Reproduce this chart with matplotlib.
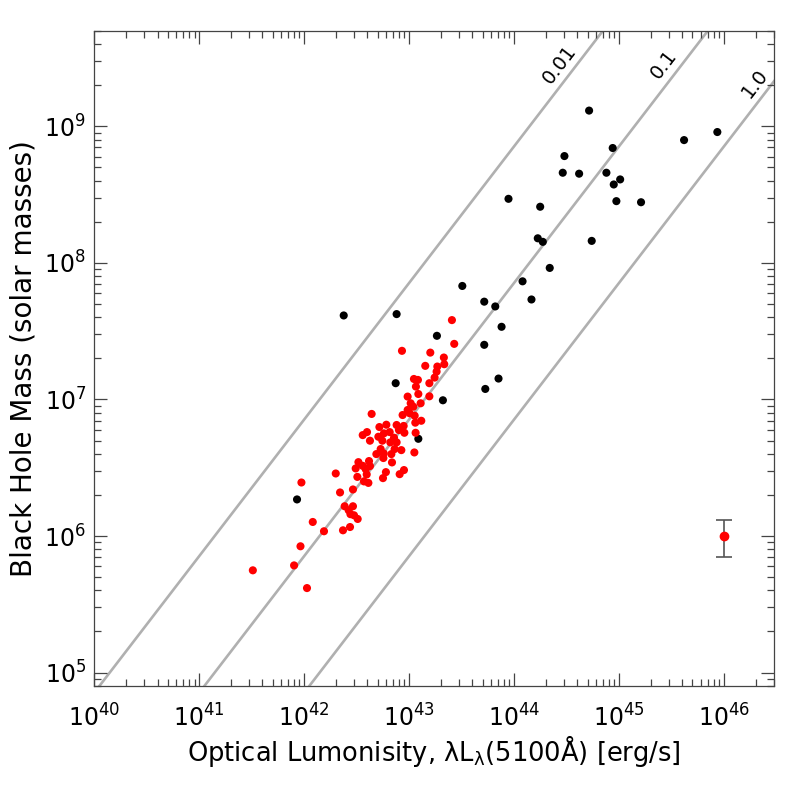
import numpy as np
import matplotlib
matplotlib.use("Agg")
import matplotlib.pyplot as plt
from matplotlib.ticker import LogLocator, NullFormatter

plt.rcParams['font.family'] = ['DejaVu Sans']
plt.rcParams['mathtext.default'] = 'regular'

# log10 of optical luminosity (erg/s) and black hole mass (solar masses)
black_logL = [44.714, 45.936, 45.619, 44.939, 44.479, 44.463, 44.619, 44.879, 45.010,
              44.949, 44.974, 45.209, 43.946, 44.248, 44.225, 44.273, 44.739, 44.339,
              43.506, 44.080, 43.715, 43.820, 44.165, 43.880, 43.264, 43.715, 43.851,
              43.725, 43.321, 42.376, 42.880, 42.871, 43.087, 41.931]
black_logM = [9.115, 8.958, 8.899, 8.841, 8.782, 8.660, 8.653, 8.660, 8.611,
              8.574, 8.452, 8.444, 8.469, 8.411, 8.180, 8.154, 8.161, 7.963,
              7.831, 7.865, 7.716, 7.681, 7.732, 7.532, 7.466, 7.400, 7.153,
              7.077, 6.994, 7.615, 7.625, 7.119, 6.712, 6.268]

red_logL = [43.407, 43.429, 42.931, 43.201, 43.330, 43.334, 43.153, 43.268, 43.261, 43.242,
            43.045, 43.083, 43.064, 43.192, 43.087, 43.192, 42.985, 43.014, 43.109, 43.039,
            42.985, 43.004, 42.937, 43.052, 42.642, 43.115, 43.058, 42.947, 42.880, 42.782,
            42.716, 42.902, 42.954, 43.061, 42.814, 42.759, 42.598, 42.557, 42.706, 42.855,
            42.626, 42.744, 42.820, 42.880, 42.861, 42.925, 42.728, 42.687, 42.757, 42.830,
            43.049, 42.754, 42.836, 42.617, 42.516, 42.557, 42.490, 42.626, 42.585, 42.778,
            42.950, 42.909, 42.300, 42.506, 42.595, 42.750, 42.569, 42.611, 41.973, 42.464,
            42.341, 42.385, 42.464, 42.423, 42.440, 42.474, 42.509, 42.081, 42.188, 42.369,
            42.436, 41.964, 41.903, 41.510, 42.026]
red_logM = [7.581, 7.407, 7.356, 7.343, 7.307, 7.258, 7.246, 7.241, 7.204, 7.160,
            7.150, 7.143, 7.094, 7.119, 7.040, 7.023, 7.021, 6.972, 6.972, 6.947,
            6.923, 6.899, 6.886, 6.881, 6.894, 6.844, 6.830, 6.806, 6.813, 6.815,
            6.798, 6.776, 6.756, 6.756, 6.761, 6.752, 6.761, 6.739, 6.727, 6.720,
            6.698, 6.698, 6.686, 6.686, 6.637, 6.629, 6.637, 6.600, 6.605, 6.600,
            6.612, 6.571, 6.539, 6.549, 6.541, 6.514, 6.495, 6.512, 6.490, 6.468,
            6.483, 6.453, 6.458, 6.433, 6.451, 6.424, 6.400, 6.389, 6.392, 6.341,
            6.319, 6.218, 6.218, 6.189, 6.160, 6.152, 6.125, 6.103, 6.035, 6.042,
            6.066, 5.925, 5.785, 5.749, 5.619]

# typical error bar point
err_L = 1e46
err_M = 1e6
err_dM = 3e5

# Eddington ratio lines
edd_ratios = [0.01, 0.1, 1.0]
edd_labels = ["0.01", "0.1", "1.0"]
edd_label_logL = [44.43, 45.43, 46.29]
L5100_per_Msun = 1.4e37  # erg/s per solar mass at Eddington ratio 1

fig = plt.figure(figsize=(7.89, 7.89), dpi=100)
ax = fig.add_axes([0.1196, 0.1302, 0.8618, 0.8309])
ax.set_xscale('log')
ax.set_yscale('log')
ax.set_xlim(1e40, 10**46.479)
ax.set_ylim(10**4.9, 10**9.7)

Lline = np.logspace(39, 47, 50)
for r, lab, lx in zip(edd_ratios, edd_labels, edd_label_logL):
    ax.plot(Lline, Lline / (r * L5100_per_Msun), color='#b0b0b0', lw=1.9, zorder=1)
    ly = 10**lx / (r * L5100_per_Msun) * 10**0.17
    ax.text(10**lx, ly, lab, rotation=52.5, rotation_mode='anchor',
            ha='center', va='center', fontsize=14)

ax.scatter(10**np.array(black_logL), 10**np.array(black_logM), s=34, c='black',
           edgecolors='none', zorder=3)
ax.scatter(10**np.array(red_logL), 10**np.array(red_logM), s=34, c='red',
           edgecolors='none', zorder=3)
ax.errorbar([err_L], [err_M], yerr=[[err_dM], [err_dM]], fmt='o', color='red',
            ms=6, ecolor='#555555', elinewidth=1.2, capsize=5.5, capthick=1.2, zorder=3)

xt = [10.0**k for k in range(40, 47)]
yt = [10.0**k for k in range(5, 10)]
ax.xaxis.set_minor_locator(LogLocator(base=10, subs=np.arange(2, 10), numticks=20))
ax.yaxis.set_minor_locator(LogLocator(base=10, subs=np.arange(2, 10), numticks=20))
ax.xaxis.set_minor_formatter(NullFormatter())
ax.yaxis.set_minor_formatter(NullFormatter())
ax.set_xticks(xt)
ax.set_xticklabels(['$10^{%d}$' % k for k in range(40, 47)])
ax.set_yticks(yt)
ax.set_yticklabels(['$10^{%d}$' % k for k in range(5, 10)])

ax.tick_params(which='both', direction='in', top=True, right=True, color='#444444')
ax.tick_params(which='major', length=9.5, width=0.9, labelsize=17)
ax.tick_params(which='minor', length=4.8, width=0.9)
ax.tick_params(axis='x', which='major', pad=13)
ax.tick_params(axis='y', which='major', pad=6)
for sp in ax.spines.values():
    sp.set_color('#444444')
    sp.set_linewidth(0.9)

ax.set_xlabel('Optical Lumonisity, $\\lambda L_\\lambda$(5100Å) [erg/s]', fontsize=18.5, labelpad=1)
ax.set_ylabel('Black Hole Mass (solar masses)', fontsize=20, labelpad=5)

fig.savefig('out.png', dpi=100)
